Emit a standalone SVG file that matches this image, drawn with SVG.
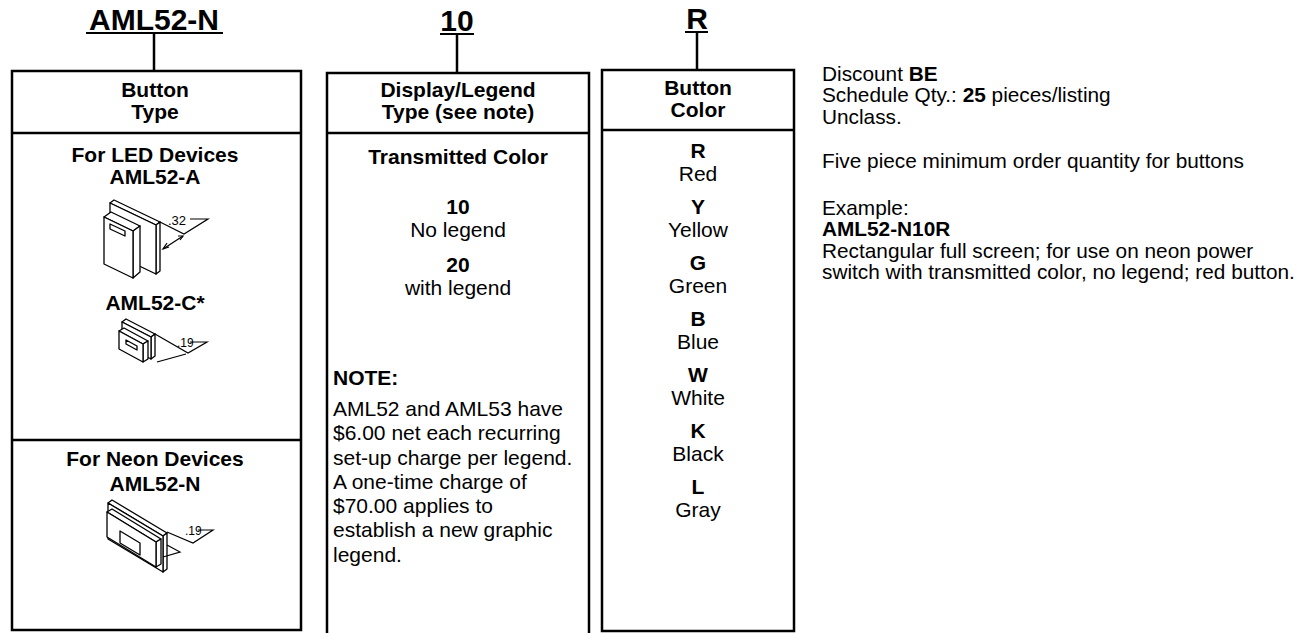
<svg xmlns="http://www.w3.org/2000/svg" width="1312" height="633" viewBox="0 0 1312 633">
<style>
text{font-family:"Liberation Sans",Arial,sans-serif;fill:#000}
.t{font-size:30px;font-weight:bold;text-anchor:middle}
.h{font-size:21px;font-weight:bold;text-anchor:middle}
.b{font-size:21px;font-weight:bold;text-anchor:middle}
.r{font-size:21px;text-anchor:middle}
.n{font-size:21px}
.nb{font-size:21px;font-weight:bold}
.s{font-size:20.8px}
.box{fill:none;stroke:#000;stroke-width:2.5}
.ln{stroke:#000;stroke-width:2.5;fill:none}
.ul{stroke:#000;stroke-width:2}
.d{fill:#fff;stroke:#000;stroke-width:1.3;stroke-linejoin:round}
.dl{fill:none;stroke:#000;stroke-width:1.2}
.dim{font-family:"Liberation Sans",Arial,sans-serif;font-size:13px}
</style>
<rect width="1312" height="633" fill="#fff"/>
<g id="connectors">
<line class="ln" x1="154" y1="33" x2="154" y2="71"/>
<line class="ln" x1="457" y1="35" x2="457" y2="73"/>
<line class="ln" x1="697" y1="33" x2="697" y2="70"/>
</g>
<g id="title-aml52n">
<text class="t" x="154" y="30">AML52-N</text>
<line class="ul" x1="86" y1="33" x2="223" y2="33"/>
</g>
<g id="title-10">
<text class="t" x="457" y="31">10</text>
<line class="ul" x1="440" y1="34" x2="474" y2="34"/>
</g>
<g id="title-r">
<text class="t" x="697" y="29">R</text>
<line class="ul" x1="685" y1="32" x2="708" y2="32"/>
</g>
<g id="box-button-type">
<rect class="box" x="12" y="71" width="289" height="559"/>
<line class="ln" x1="12" y1="133" x2="301" y2="133"/>
<line class="ln" x1="12" y1="440" x2="301" y2="440"/>
<text class="h" x="155" y="97">Button</text>
<text class="h" x="155" y="119">Type</text>
<text class="b" x="155" y="162">For LED Devices</text>
<text class="b" x="155" y="184">AML52-A</text>
<text class="b" x="155" y="310">AML52-C*</text>
<text class="b" x="155" y="466">For Neon Devices</text>
<text class="b" x="155" y="491">AML52-N</text>
<g id="img-a">
<polygon class="d" points="110,203 114,200 160,222 156,225"/>
<polygon class="d" points="156,225 160,222 160,271 156,274"/>
<polygon class="d" points="110,203 156,225 156,274 110,252"/>
<polygon class="d" points="104,217 111,212 140,226 133,231"/>
<polygon class="d" points="133,231 140,226 140,272 133,278"/>
<polygon class="d" points="104,217 133,231 133,278 104,264"/>
<polygon class="d" points="110,224 125,231 125,236 110,229"/>
<polyline class="dl" points="160,222 184,234 208,219 190,219"/>
<line class="dl" x1="163" y1="249" x2="183" y2="236"/>
<polyline class="dl" points="167,243 163,249 169,247"/>
<polyline class="dl" points="178,236 183,236 180,240"/>
<text class="dim" x="168" y="225">.32</text>
</g>
<g id="img-c">
<polygon class="d" points="122,322 126,319 155,334 151,337"/>
<polygon class="d" points="151,337 155,334 155,356 151,359"/>
<polygon class="d" points="122,322 151,337 151,359 122,344"/>
<polygon class="d" points="119,331 124,328 148,341 143,344"/>
<polygon class="d" points="143,344 148,341 148,359 143,362"/>
<polygon class="d" points="119,331 143,344 143,362 119,349"/>
<polygon class="d" points="126,340 137,346 137,350 126,344"/>
<polyline class="dl" points="155,334 188,353 207,342 190,342"/>
<line class="dl" x1="157" y1="362" x2="186" y2="354"/>
<text class="dim" x="177" y="347" style="font-size:12px">.19</text>
</g>
<g id="img-n">
<polygon class="d" points="108,503 112,500 167,533 163,536"/>
<polygon class="d" points="163,536 167,533 167,569 163,572"/>
<polygon class="d" points="108,503 163,536 163,572 108,539"/>
<polygon class="d" points="107,512 112,509 161,539 156,542"/>
<polygon class="d" points="156,542 161,539 161,564 156,567"/>
<polygon class="d" points="107,512 156,542 156,567 107,537"/>
<polygon class="d" points="120,531 140,543 140,555 120,543"/>
<polyline class="dl" points="167,532 193,543 213,530 198,530"/>
<polyline class="dl" points="163,557 180,552 167,545"/>
<text class="dim" x="185" y="535" style="font-size:12px">.19</text>
</g>
</g>
<g id="box-display-legend">
<polyline class="box" points="327,633 327,73 589,73 589,633"/>
<line class="ln" x1="327" y1="133" x2="589" y2="133"/>
<text class="h" x="458" y="97">Display/Legend</text>
<text class="h" x="458" y="119">Type (see note)</text>
<text class="b" x="458" y="164">Transmitted Color</text>
<text class="b" x="458" y="214">10</text>
<text class="r" x="458" y="237">No legend</text>
<text class="b" x="458" y="272">20</text>
<text class="r" x="458" y="295">with legend</text>
<text class="nb" x="333" y="385">NOTE:</text>
<text class="n" x="333" y="416">AML52 and AML53 have</text>
<text class="n" x="333" y="440">$6.00 net each recurring</text>
<text class="n" x="333" y="465">set-up charge per legend.</text>
<text class="n" x="333" y="489">A one-time charge of</text>
<text class="n" x="333" y="513">$70.00 applies to</text>
<text class="n" x="333" y="537">establish a new graphic</text>
<text class="n" x="333" y="562">legend.</text>
</g>
<g id="box-button-color">
<rect class="box" x="602" y="70" width="192" height="561"/>
<line class="ln" x1="602" y1="130" x2="794" y2="130"/>
<text class="h" x="698" y="95">Button</text>
<text class="h" x="698" y="117">Color</text>
<text class="b" x="698" y="158">R</text>
<text class="r" x="698" y="181">Red</text>
<text class="b" x="698" y="214">Y</text>
<text class="r" x="698" y="237">Yellow</text>
<text class="b" x="698" y="270">G</text>
<text class="r" x="698" y="293">Green</text>
<text class="b" x="698" y="326">B</text>
<text class="r" x="698" y="349">Blue</text>
<text class="b" x="698" y="382">W</text>
<text class="r" x="698" y="405">White</text>
<text class="b" x="698" y="438">K</text>
<text class="r" x="698" y="461">Black</text>
<text class="b" x="698" y="494">L</text>
<text class="r" x="698" y="517">Gray</text>
</g>
<g id="info">
<text class="s" x="822" y="81">Discount <tspan font-weight="bold">BE</tspan></text>
<text class="s" x="822" y="102">Schedule Qty.: <tspan font-weight="bold">25</tspan> pieces/listing</text>
<text class="s" x="822" y="124">Unclass.</text>
<text class="s" x="822" y="168">Five piece minimum order quantity for buttons</text>
<text class="s" x="822" y="215">Example:</text>
<text class="s" x="822" y="236" font-weight="bold">AML52-N10R</text>
<text class="s" x="822" y="258">Rectangular full screen; for use on neon power</text>
<text class="s" x="822" y="279">switch with transmitted color, no legend; red button.</text>
</g>
</svg>
